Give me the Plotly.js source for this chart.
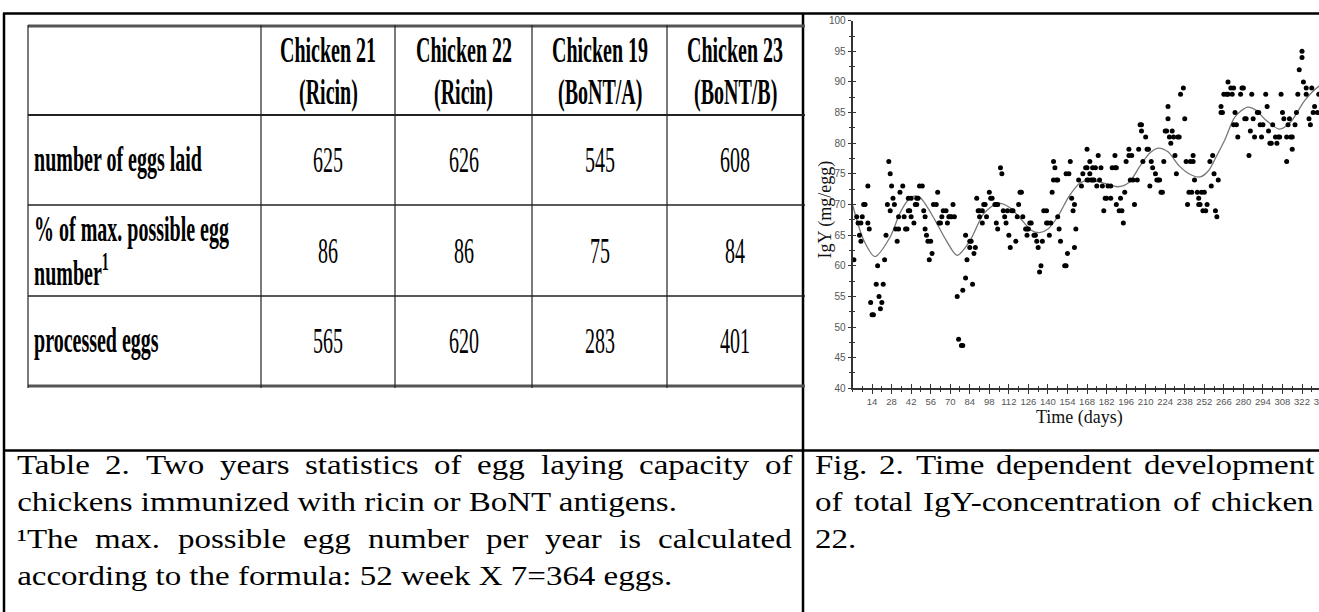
<!DOCTYPE html>
<html><head><meta charset="utf-8">
<script src="https://cdn.plot.ly/plotly-3.0.1.min.js"></script>
<style>
html,body{margin:0;padding:0;background:#fff;overflow:hidden;}
#wrap{width:1319px;height:612px;overflow:hidden;position:relative;}
#plot{width:1400px;height:612px;position:absolute;left:0;top:0;}
</style></head><body>
<div id="wrap"><div id="plot"></div></div>
<script>
// ---------------- data ----------------
const tableHeaders = ['Chicken 21', 'Chicken 22', 'Chicken 19', 'Chicken 23'];
const tableAntigens = ['(Ricin)', '(Ricin)', '(BoNT/A)', '(BoNT/B)'];
const rowLabels = [['number of eggs laid'], ['% of max. possible egg', 'number<sup>1</sup>'], ['processed eggs']];
const eggsLaid = [625, 626, 545, 608];
const pctOfMax = [86, 86, 75, 84];
const processedEggs = [565, 620, 283, 401];

const tableCaption = ['Table 2. Two years statistics of egg laying capacity of',
  'chickens immunized with ricin or BoNT antigens.',
  '\u00B9The max. possible egg number per year is calculated',
  'according to the formula: 52 week X 7=364 eggs.'];
const tableCaptionJustified = [true, false, true, false];
const figCaption = ['Fig. 2. Time dependent development', 'of total IgY-concentration of chicken', '22.'];
const figCaptionJustified = [true, true, false];

const yTitle = 'IgY (mg/egg)';
const xTitle = 'Time (days)';

const days = [1,3,4,5,6,7,6,8,9,11,11,12,13,14,15,18,17,22,19,20,21,23,24,26,27,28,25,27,30,29,31,33,32,33,34,36,37,38,39,40,41,40,42,42,44,45,46,46,47,48,50,51,52,52,53,54,56,55,57,58,60,61,62,63,64,65,67,68,69,70,71,72,73,75,76,78,79,79,81,81,82,84,85,84,86,87,88,89,90,91,91,93,93,94,95,96,98,99,100,102,103,104,103,104,106,107,108,109,110,111,112,113,114,115,117,118,119,120,121,122,124,125,126,125,127,128,130,131,132,133,134,135,136,137,139,139,140,141,142,143,144,145,144,146,147,147,148,149,152,153,154,153,155,156,157,158,159,159,160,162,164,165,167,168,168,168,169,170,170,171,172,173,172,174,175,176,177,178,179,180,181,182,185,183,185,186,188,189,188,189,191,193,192,194,195,196,198,198,200,199,201,202,204,205,206,207,207,210,208,211,212,213,214,215,217,218,219,220,221,222,223,224,225,226,226,227,228,229,230,231,232,233,234,235,237,238,239,240,241,243,242,244,244,245,247,248,248,249,250,252,251,253,254,256,257,258,259,260,261,262,264,265,264,266,268,269,269,271,273,272,273,275,274,276,278,279,280,281,282,284,285,286,287,288,290,291,292,293,294,296,297,298,299,300,301,303,304,305,306,307,308,309,311,311,312,313,314,315,315,317,318,319,320,322,322,323,325,325,327,328,329,330,331,333,334];
const igy = [61,68,67,65,64,68,67,70,70,73,67,66,54,52,52,60,57,57,55,53,54,61,65,77,75,73,70,69,70,71,66,66,64,68,72,73,68,66,66,69,69,71,71,68,67,70,70,71,71,73,73,69,68,66,65,64,64,61,62,70,70,72,67,67,68,69,69,67,68,68,68,70,68,55,48,47,47,56,58,65,61,64,64,63,57,62,63,71,69,69,68,67,69,70,70,68,72,71,71,70,70,70,67,66,76,75,69,68,67,69,65,63,69,69,64,68,70,72,72,68,66,66,66,65,67,67,65,65,64,63,59,60,64,69,69,67,67,65,67,72,77,76,74,74,74,68,66,64,60,60,62,75,75,77,71,69,63,70,66,74,73,75,76,76,79,74,74,77,75,74,74,74,76,76,73,78,74,76,73,69,71,71,71,73,73,76,76,76,78,70,69,69,71,67,72,77,79,78,78,74,74,70,74,79,83,83,82,81,77,79,79,73,77,76,75,74,74,74,72,72,77,82,82,86,84,81,80,82,81,78,75,81,81,88,89,84,77,70,72,72,77,77,78,74,72,71,70,70,72,72,69,69,70,77,73,78,75,69,68,74,85,85,86,88,88,90,88,89,89,88,83,83,85,81,88,89,89,84,84,78,82,88,84,81,85,85,83,81,83,88,86,82,80,80,83,81,80,81,81,88,85,84,77,81,83,84,81,81,79,83,85,88,92,95,94,90,89,88,84,83,89,85,86,85,88];

const trendDays = [0,8,16,27,34,41,45,49,59,67,75,84,94,104,112,120,128,134,140,147,155,163,170,180,190,198,206,213,219,226,234,242,249,255,261,267,274,283,289,296,306,314,324,334,345];
const trendIgY = [70,64.2,61.5,64.7,68.6,71,71.4,71,67.5,64.2,61.7,64,68.5,70.2,69.6,67.8,65.8,65.4,66,68,71.3,73.5,74,73.5,72.9,73.6,76.3,78.4,79.2,78.6,76.3,74.9,74.5,75.5,78,80.7,84.3,85.9,85.4,83.8,82.3,83.5,87,89.3,90.5];

const xTickVals = [14,28,42,56,70,84,98,112,126,140,154,168,182,196,210,224,238,252,266,280,294,308,322,336];
const yTickVals = [40,45,50,55,60,65,70,75,80,85,90,95,100];

// ---------------- layout constants ----------------
const W = 1400, H = 612;
const px = x => x / W;
const py = y => 1 - y / H;
const SERIF = "'Liberation Serif', 'Times New Roman', Times, serif";
const NARROW = "'Liberation Sans Narrow', 'Arial Narrow', 'Liberation Sans', Arial, sans-serif";
const K_TABLE = 1.8;     // vertical stretch of table text
const K_CAP = 0.82;      // vertical squash of caption text
const TF = 20;           // table font size
const CF = 33;           // caption font size
const colX = [28, 261, 395, 532, 667, 803];
const rowY = [26, 115, 205, 296, 386];
const xPxPerDay = 1.396, x0px = 852.5;

const shapes = [];
const annotations = [];
const scaleList = [];

function line(x0, y0, x1, y1, color, width) {
  shapes.push({type: 'line', xref: 'paper', yref: 'paper', x0: px(x0), y0: py(y0), x1: px(x1), y1: py(y1),
    line: {color: color, width: width}, layer: 'above'});
}
function txt(text, x, baseline, opts) {
  opts = opts || {};
  const size = opts.size || TF;
  const a = {text: text, xref: 'paper', yref: 'paper', x: px(x), y: py(baseline + 0.216 * size),
    xanchor: opts.xanchor || 'center', yanchor: 'bottom', showarrow: false, borderpad: 0,
    font: {family: SERIF, size: size, color: opts.color || '#000'}};
  annotations.push(a);
  if (opts.k) scaleList.push([annotations.length - 1, opts.k]);
}

// frame
line(3, 13.5, W, 13.5, '#000', 2.5);
line(4, 13, 4, H, '#000', 2.5);
line(803, 13, 803, H, '#000', 2.5);
line(3, 450.5, W, 450.5, '#000', 2.5);

// table lines
line(colX[0], rowY[0], 805, rowY[0], '#555', 3);
line(colX[0], rowY[1], 805, rowY[1], '#222', 2);
line(colX[0], rowY[2], 805, rowY[2], '#222', 1.5);
line(colX[0], rowY[3], 805, rowY[3], '#222', 1.5);
line(colX[0], rowY[4], 805, rowY[4], '#555', 3);
for (let i = 0; i < colX.length - 1; i++) line(colX[i], rowY[0] - 1, colX[i], rowY[4] + 2, '#222', 1.2);

// table header
const hMid = (rowY[0] + rowY[1]) / 2;
tableHeaders.forEach((h, i) => {
  const cx = (colX[i + 1] + colX[i + 2]) / 2;
  txt('<b>' + h + '</b>', cx, hMid - 7.5, {k: K_TABLE});
  txt('<b>' + tableAntigens[i] + '</b>', cx, hMid + 35.5, {k: K_TABLE});
});
// table body
[eggsLaid, pctOfMax, processedEggs].forEach((vals, r) => {
  const mid = (rowY[r + 1] + rowY[r + 2]) / 2;
  const lab = rowLabels[r];
  if (lab.length === 1) txt('<b>' + lab[0] + '</b>', colX[0] + 5, mid + 13, {xanchor: 'left', k: K_TABLE});
  else {
    txt('<b>' + lab[0] + '</b>', colX[0] + 5, mid - 7.5, {xanchor: 'left', k: K_TABLE});
    txt('<b>' + lab[1] + '</b>', colX[0] + 5, mid + 35.5, {xanchor: 'left', k: K_TABLE});
  }
  vals.forEach((v, i) => {
    const cx = (colX[i + 1] + colX[i + 2]) / 2;
    txt(String(v), cx, mid + 13, {k: K_TABLE});
  });
});

// captions
const ctx = document.createElement('canvas').getContext('2d');
ctx.font = CF + 'px ' + SERIF;
function captionLine(str, justified, xa, xb, baseline) {
  if (!justified) { txt(str, xa, baseline, {xanchor: 'left', size: CF, k: K_CAP}); return; }
  const words = str.split(' ');
  const widths = words.map(w => ctx.measureText(w).width);
  const total = widths.reduce((s, w) => s + w, 0);
  const gap = (xb - xa - total) / (words.length - 1);
  let x = xa;
  words.forEach((w, i) => { txt(w, x, baseline, {xanchor: 'left', size: CF, k: K_CAP}); x += widths[i] + gap; });
}
const capBase = [475, 512, 549, 586];
tableCaption.forEach((s, i) => captionLine(s, tableCaptionJustified[i], 16, 791, capBase[i]));
figCaption.forEach((s, i) => captionLine(s, figCaptionJustified[i], 814, 1313, capBase[i]));

// axis titles
annotations.push({text: yTitle, xref: 'paper', yref: 'paper', x: px(824.5), y: py(210), xanchor: 'center', yanchor: 'middle',
  textangle: -90, showarrow: false, borderpad: 0, font: {family: SERIF, size: 18, color: '#111'}});
txt(xTitle, 1079, 425, {size: 18, color: '#111'});

// ---------------- traces ----------------
const traces = [
  {type: 'scatter', mode: 'lines', x: trendDays, y: trendIgY, line: {color: '#777', width: 1.3, shape: 'spline', smoothing: 0.8}, hoverinfo: 'skip'},
  {type: 'scatter', mode: 'markers', x: days, y: igy, marker: {color: '#000', size: 5}},
  {type: 'scatter', mode: 'markers', x: [], y: [], xaxis: 'x2', yaxis: 'y2'}
];

const xRange = [0, (W - x0px) / xPxPerDay];
const yDomain = [py(388.3), py(20.7)];
const tickFont = {family: NARROW, size: 9.5, color: '#555'};
const layout = {
  width: W, height: H, margin: {l: 0, r: 0, t: 0, b: 0},
  paper_bgcolor: '#fff', plot_bgcolor: 'rgba(0,0,0,0)', showlegend: false,
  xaxis: {domain: [px(x0px), 1], range: xRange, anchor: 'y', showline: true, linecolor: '#333', linewidth: 1.2,
    ticks: 'outside', ticklen: 4, tickwidth: 1, tickcolor: '#333', tickmode: 'array', tickvals: xTickVals,
    ticktext: xTickVals.map(String), tickfont: tickFont, showgrid: false, zeroline: false,
    minor: {ticks: 'outside', ticklen: 2.5, tickwidth: 1, tickcolor: '#333', dtick: 7, tick0: 0, showgrid: false}},
  yaxis: {domain: yDomain, range: [40, 100], anchor: 'x', showline: true, linecolor: '#333', linewidth: 1.2,
    ticks: 'outside', ticklen: 3.7, tickwidth: 1, tickcolor: '#333', tickmode: 'array', tickvals: yTickVals,
    ticktext: yTickVals.map(String), tickfont: {family: NARROW, size: 10, color: '#555'}, showgrid: false, zeroline: false,
    minor: {ticks: 'outside', ticklen: 2, tickwidth: 1, tickcolor: '#333', dtick: 2.5, tick0: 40, showgrid: false}},
  xaxis2: {overlaying: 'x', anchor: 'y', range: xRange, showline: false, ticks: 'inside', ticklen: 4, tickwidth: 1,
    tickcolor: '#333', tickmode: 'array', tickvals: xTickVals, showticklabels: false, showgrid: false, zeroline: false,
    minor: {ticks: 'inside', ticklen: 2.5, tickwidth: 1, tickcolor: '#333', dtick: 7, tick0: 0, showgrid: false}},
  yaxis2: {overlaying: 'y', anchor: 'x', side: 'left', range: [40, 100], showline: false, ticks: 'inside', ticklen: 3.7,
    tickwidth: 1, tickcolor: '#333', tickmode: 'array', tickvals: yTickVals, showticklabels: false, showgrid: false, zeroline: false,
    minor: {ticks: 'inside', ticklen: 2, tickwidth: 1, tickcolor: '#333', dtick: 2.5, tick0: 40, showgrid: false}},
  shapes: shapes,
  annotations: annotations
};

Plotly.newPlot('plot', traces, layout, {staticPlot: true, displayModeBar: false}).then(gd => {
  scaleList.forEach(([i, k]) => {
    const t = gd.querySelector('.annotation[data-index="' + i + '"] text.annotation-text');
    if (!t) return;
    const b = parseFloat(t.getAttribute('y')) || 0;
    t.setAttribute('transform', 'translate(0,' + b + ') scale(1,' + k + ') translate(0,' + (-b) + ')');
  });
});
</script>
</body></html>
